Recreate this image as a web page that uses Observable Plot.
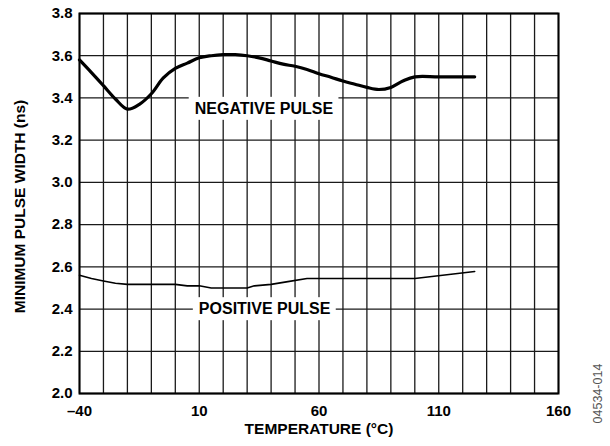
<!DOCTYPE html>
<html><head><meta charset="utf-8">
<script src="https://cdn.jsdelivr.net/npm/d3@7"></script>
<script src="https://cdn.jsdelivr.net/npm/@observablehq/plot@0.6"></script>
<style>body{margin:0;background:#fff}</style>
</head><body>
<div id="chart"></div>
<script>
// Negative pulse (ns) vs temperature (°C)
const negTemp  = [-40, -35, -30, -25, -20, -15, -10, -5, 0, 5, 10, 15, 20, 25, 30, 35, 40, 45, 50, 55, 60, 65, 70, 75, 80, 85, 90, 95, 100, 110, 125];
const negWidth = [3.58, 3.52, 3.458, 3.395, 3.347, 3.37, 3.42, 3.495, 3.54, 3.565, 3.59, 3.60, 3.605, 3.605, 3.60, 3.59, 3.575, 3.56, 3.55, 3.535, 3.515, 3.498, 3.48, 3.465, 3.45, 3.44, 3.45, 3.48, 3.50, 3.50, 3.50];
// Positive pulse
const posTemp  = [-40, -35, -30, -25, -20, 0, 5, 10, 15, 30, 33, 40, 47, 55, 100, 125];
const posWidth = [2.56, 2.545, 2.533, 2.522, 2.517, 2.517, 2.51, 2.51, 2.50, 2.50, 2.51, 2.517, 2.53, 2.545, 2.545, 2.578];

const xTickLabels = [-40, 10, 60, 110, 160];
const yTickLabels = [2.0, 2.2, 2.4, 2.6, 2.8, 3.0, 3.2, 3.4, 3.6, 3.8];
const xGridLines = [-40, -30, -20, -10, 0, 10, 20, 30, 40, 50, 60, 70, 80, 90, 100, 110, 120, 130, 140, 150, 160];

const labelText  = ["NEGATIVE PULSE", "POSITIVE PULSE"];
const labelTemp  = [37.0, 37.3];
const labelWidth = [3.349, 2.40];

const neg = negTemp.map((t, i) => ({t, w: negWidth[i]}));
const pos = posTemp.map((t, i) => ({t, w: posWidth[i]}));
const labels = labelText.map((text, i) => ({text, t: labelTemp[i], w: labelWidth[i]}));

const plot = Plot.plot({
  width: 610, height: 446,
  marginLeft: 79, marginRight: 52, marginTop: 13, marginBottom: 53,
  x: {domain: [-40, 160]},
  y: {domain: [2.0, 3.8]},
  style: {fontFamily: "'Liberation Sans', Arial, sans-serif", fontWeight: "bold", color: "#000", background: "#fff"},
  marks: [
    Plot.ruleX(xGridLines, {stroke: "#1a1a1a", strokeWidth: 1.3}),
    Plot.ruleY(yTickLabels, {stroke: "#1a1a1a", strokeWidth: 1.3}),
    Plot.axisX(xTickLabels, {tickSize: 0, tickPadding: 12, fontSize: 15, fontWeight: "bold",
      tickFormat: d => d < 0 ? "\u2013" + Math.abs(d) : String(d), label: null}),
    Plot.axisY(yTickLabels, {tickSize: 0, tickPadding: 7, fontSize: 15, fontWeight: "bold",
      tickFormat: d3.format(".1f"), label: null}),
    Plot.line(neg, {x: "t", y: "w", stroke: "#000", strokeWidth: 3.2, curve: "catmull-rom"}),
    Plot.line(pos, {x: "t", y: "w", stroke: "#000", strokeWidth: 1.6}),
    Plot.text(labels, {x: "t", y: "w", text: "text", fontSize: 16, fontWeight: "bold", fill: "#000"}),
    Plot.text(["TEMPERATURE (\u00B0C)"], {text: d => d, frameAnchor: "bottom", dy: 40, fontSize: 15.5, fontWeight: "bold"}),
    Plot.text(["MINIMUM PULSE WIDTH (ns)"], {text: d => d, frameAnchor: "left", textAnchor: "middle", lineAnchor: "middle", dx: -59, dy: 3, rotate: -90, fontSize: 15.5, fontWeight: "bold"}),
    Plot.text(["04534-014"], {text: d => d, frameAnchor: "bottom-right", textAnchor: "middle", lineAnchor: "middle", dx: 39, rotate: -90, fontSize: 12.5, fontWeight: "normal", fill: "#555"}),
    Plot.frame({stroke: "#000", strokeWidth: 2})
  ]
});
document.getElementById("chart").appendChild(plot);

// white knock-out boxes behind the curve labels
d3.select(plot).selectAll("text").each(function() {
  if (!labelText.includes(this.textContent)) return;
  const b = this.getBBox();
  const r = document.createElementNS("http://www.w3.org/2000/svg", "rect");
  r.setAttribute("x", b.x - 6);
  r.setAttribute("y", b.y - 3);
  r.setAttribute("width", b.width + 11);
  r.setAttribute("height", b.height + 6);
  r.setAttribute("fill", "#fff");
  r.setAttribute("stroke", "none");
  const tr = this.getAttribute("transform");
  if (tr) r.setAttribute("transform", tr);
  this.parentNode.insertBefore(r, this);
});
</script>
</body></html>
